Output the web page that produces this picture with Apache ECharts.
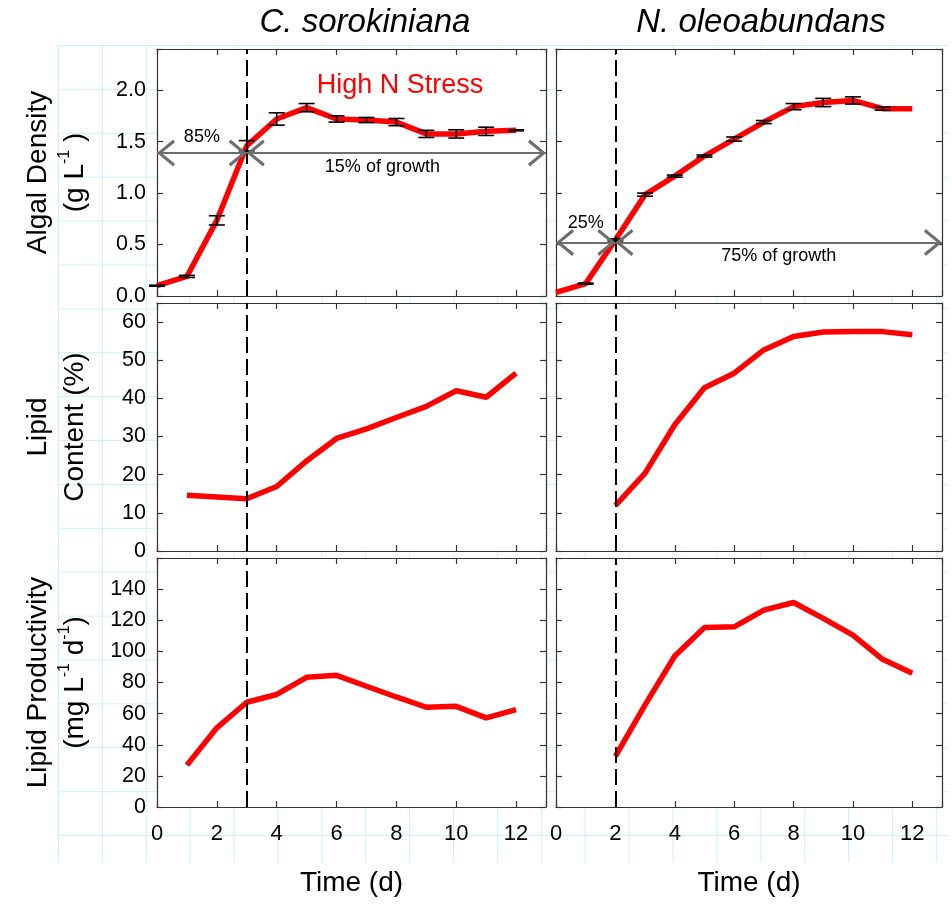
<!DOCTYPE html>
<html>
<head>
<meta charset="utf-8">
<script src="https://cdn.jsdelivr.net/npm/echarts@6/dist/echarts.min.js"></script>
<style>
  html, body { margin: 0; padding: 0; background: #fff; }
  #wrap { position: relative; width: 952px; height: 908px; }
  /* faint page grid behind the panels */
  #paper {
    position: absolute; left: 58px; top: 45px; width: 890px; height: 817px;
    background-image:
      linear-gradient(to right, #c8f3f7 1px, transparent 1px),
      linear-gradient(to bottom, #c8f3f7 1px, transparent 1px);
    background-size: 43.9px 43.9px;
  }
  #chart { position: absolute; left: 0; top: 0; width: 952px; height: 908px; }
</style>
</head>
<body>
<div id="wrap"><div id="paper"></div><div id="chart"></div></div>
<script>
// time axis (days)
const days = [0, 1, 2, 3, 4, 5, 6, 7, 8, 9, 10, 11, 12];
const timeTicks = [0, 2, 4, 6, 8, 10, 12];

// C. sorokiniana
const csDensity    = [0.10, 0.19, 0.735, 1.46, 1.72, 1.83, 1.72, 1.71, 1.69, 1.575, 1.575, 1.60, 1.61];
const csDensityErr = [0.005, 0.01, 0.045, 0.05, 0.06, 0.04, 0.03, 0.025, 0.035, 0.035, 0.04, 0.04, 0.005];
const csLipid      = [null, 14.6, null, 13.7, 16.9, 23.6, 29.5, 32.0, 35.0, 37.9, 42.0, 40.3, 46.6];
const csProd       = [null, 26.9, 50.9, 67.3, 72.3, 83.3, 84.6, 77.6, 70.7, 64.1, 64.7, 57.3, 62.6];

// N. oleoabundans
const noDensity    = [0.035, 0.12, 0.545, 0.985, 1.165, 1.36, 1.525, 1.69, 1.84, 1.88, 1.90, 1.82, 1.82];
const noDensityErr = [0, 0.005, 0.01, 0.015, 0.01, 0.01, 0.02, 0.015, 0.03, 0.04, 0.035, 0.015, 0];
const noLipid      = [null, null, 11.9, 20.4, 33.1, 42.8, 46.6, 52.7, 56.2, 57.4, 57.5, 57.5, 56.7];
const noProd       = [null, null, 32.5, 65.6, 97.0, 115.4, 115.8, 126.5, 131.4, 121.2, 110.5, 94.9, 85.9];

// stress onset day and growth split arrows
const splitDay = [3, 2];
const arrowY = [1.39, 0.52];
const arrowLeftText = ['85%', '25%'];
const arrowRightText = ['15% of growth', '75% of growth'];

const densityTicks = [0, 0.5, 1.0, 1.5, 2.0];
const lipidTicks = [0, 10, 20, 30, 40, 50, 60];
const prodTicks = [0, 20, 40, 60, 80, 100, 120, 140];

const FONT = "'Liberation Sans', Arial, sans-serif";
const AXIS_COLOR = '#333';
const ARROW_COLOR = '#6e6e6e';
// open chevron, tip at the centre of its box
const chevron = 'path://M4.99,0 L5.01,0 L5,0.02 Z M5,10 L10,19 L9,20 L5,12.6 L1,20 L0,19 Z';

const panels = [
  { left: 157, top: 49,  width: 389, height: 247 },
  { left: 556, top: 49,  width: 386, height: 247 },
  { left: 157, top: 303, width: 389, height: 248 },
  { left: 556, top: 303, width: 386, height: 248 },
  { left: 157, top: 558, width: 389, height: 249 },
  { left: 556, top: 558, width: 386, height: 249 }
];

const rows = [
  { ticks: densityTicks, max: 2.4, fmt: v => v.toFixed(1),
    name: 'Algal Density\n(g L{sup|-1} )', data: [csDensity, noDensity], err: [csDensityErr, noDensityErr] },
  { ticks: lipidTicks, max: 65, fmt: v => String(v),
    name: 'Lipid\nContent (%)', data: [csLipid, noLipid] },
  { ticks: prodTicks, max: 160, fmt: v => String(v),
    name: 'Lipid Productivity\n(mg L{sup|-1} d{sup|-1})', data: [csProd, noProd] }
];

function onTick(ticks, v) {
  return ticks.some(t => Math.abs(t - v) < 1e-9);
}

const grid = [], xAxis = [], yAxis = [], series = [];

panels.forEach((p, i) => {
  const col = i % 2, r = Math.floor(i / 2);
  const row = rows[r];
  grid.push(Object.assign({ show: true, backgroundColor: '#fff', borderWidth: 0, outerBoundsMode: 'none' }, p));

  const lineStyle = { color: AXIS_COLOR, width: 1.2 };
  const tick = { show: true, inside: true, length: 6, lineStyle: lineStyle };
  const xBase = {
    gridIndex: i, type: 'value', min: 0, max: 13, interval: timeTicks[1] - timeTicks[0],
    axisLine: { show: true, onZero: false, lineStyle: lineStyle }, axisTick: tick,
    splitLine: { show: false }
  };
  xAxis.push(Object.assign({}, xBase, {
    position: 'bottom',
    axisLabel: {
      show: r === 2, margin: 16, color: '#000', fontSize: 22, fontFamily: FONT,
      formatter: v => onTick(timeTicks, v) ? String(v) : ''
    },
    name: r === 2 ? 'Time (d)' : '', nameLocation: 'middle', nameGap: 62,
    nameTextStyle: { fontSize: 28, color: '#000', fontFamily: FONT }
  }));
  xAxis.push(Object.assign({}, xBase, { position: 'top', axisLabel: { show: false } }));

  const yBase = {
    gridIndex: i, type: 'value', min: 0, max: row.max, interval: row.ticks[1] - row.ticks[0],
    axisLine: { show: true, onZero: false, lineStyle: lineStyle }, axisTick: tick,
    splitLine: { show: false }
  };
  yAxis.push(Object.assign({}, yBase, {
    position: 'left',
    axisLabel: {
      show: col === 0, margin: 11, color: '#000', fontSize: 21.5, fontFamily: FONT,
      formatter: v => onTick(row.ticks, v) ? row.fmt(v) : ''
    },
    name: col === 0 ? row.name : '', nameLocation: 'middle', nameRotate: 90, nameGap: 63,
    nameTextStyle: {
      fontSize: 28, color: '#000', fontFamily: FONT, lineHeight: 37, align: 'center',
      rich: { sup: { fontSize: 16, fontFamily: FONT, color: '#000', verticalAlign: 'top', lineHeight: 37 } }
    }
  }));
  yAxis.push(Object.assign({}, yBase, { position: 'right', axisLabel: { show: false } }));

  const vals = row.data[col];
  const pts = [];
  days.forEach((d, k) => { if (vals[k] !== null) pts.push([d, vals[k]]); });

  const marks = [{
    xAxis: splitDay[col],
    lineStyle: { type: [16, 6], color: '#000', width: 2 }
  }];
  if (r === 0) {
    const y = arrowY[col];
    const lbl = { fontSize: 18, color: '#000', fontFamily: FONT };
    marks.push([
      { coord: [0, y], symbol: chevron, symbolSize: [27, 36],
        lineStyle: { type: 'solid', color: ARROW_COLOR, width: 2 },
        label: Object.assign({ show: true, formatter: arrowLeftText[col], position: 'insideMiddleTop', distance: col === 0 ? 7 : 10 }, lbl) },
      { coord: [splitDay[col], y], symbol: chevron, symbolSize: [27, 36] }
    ]);
    marks.push([
      { coord: [splitDay[col], y], symbol: chevron, symbolSize: [27, 36],
        lineStyle: { type: 'solid', color: ARROW_COLOR, width: 2 },
        label: Object.assign({ show: true, formatter: arrowRightText[col], position: 'insideMiddleBottom', distance: 5,
          offset: col === 0 ? [-14, 0] : [0, 0] }, lbl) },
      { coord: [13, y], symbol: chevron, symbolSize: [27, 36] }
    ]);
  }

  series.push({
    type: 'line', xAxisIndex: 2 * i, yAxisIndex: 2 * i, data: pts,
    symbol: 'none', lineStyle: { color: '#ff0000', width: 5.5 }, z: 3,
    markLine: { silent: true, symbol: 'none', label: { show: false }, animation: false, data: marks }
  });

  if (r === 0) {
    const errs = row.err[col];
    const ebData = [];
    days.forEach((d, k) => { if (errs[k] > 0) ebData.push([d, vals[k], errs[k]]); });
    series.push({
      type: 'custom', xAxisIndex: 2 * i, yAxisIndex: 2 * i, data: ebData, z: 4,
      renderItem: (params, api) => {
        const x = api.value(0), y = api.value(1), e = api.value(2);
        const hi = api.coord([x, y + e]), lo = api.coord([x, y - e]);
        const w = 8;
        const st = { stroke: '#000', lineWidth: 1.6 };
        return {
          type: 'group',
          children: [
            { type: 'line', shape: { x1: hi[0], y1: hi[1], x2: lo[0], y2: lo[1] }, style: st },
            { type: 'line', shape: { x1: hi[0] - w, y1: hi[1], x2: hi[0] + w, y2: hi[1] }, style: st },
            { type: 'line', shape: { x1: lo[0] - w, y1: lo[1], x2: lo[0] + w, y2: lo[1] }, style: st }
          ]
        };
      }
    });
  }
});

const chart = echarts.init(document.getElementById('chart'), null, { renderer: 'canvas' });
chart.setOption({
  animation: false,
  backgroundColor: 'transparent',
  textStyle: { fontFamily: FONT },
  grid: grid, xAxis: xAxis, yAxis: yAxis, series: series,
  graphic: [
    { type: 'text', z: 100, style: { text: 'C. sorokiniana', x: 365, y: 23, textAlign: 'center', textVerticalAlign: 'middle',
      font: 'italic 33px ' + FONT, fill: '#000' } },
    { type: 'text', z: 100, style: { text: 'N. oleoabundans', x: 761, y: 23, textAlign: 'center', textVerticalAlign: 'middle',
      font: 'italic 33px ' + FONT, fill: '#000' } },
    { type: 'text', z: 100, style: { text: 'High N Stress', x: 400, y: 86, textAlign: 'center', textVerticalAlign: 'middle',
      font: '27px ' + FONT, fill: '#ff0000' } }
  ]
});
</script>
</body>
</html>
